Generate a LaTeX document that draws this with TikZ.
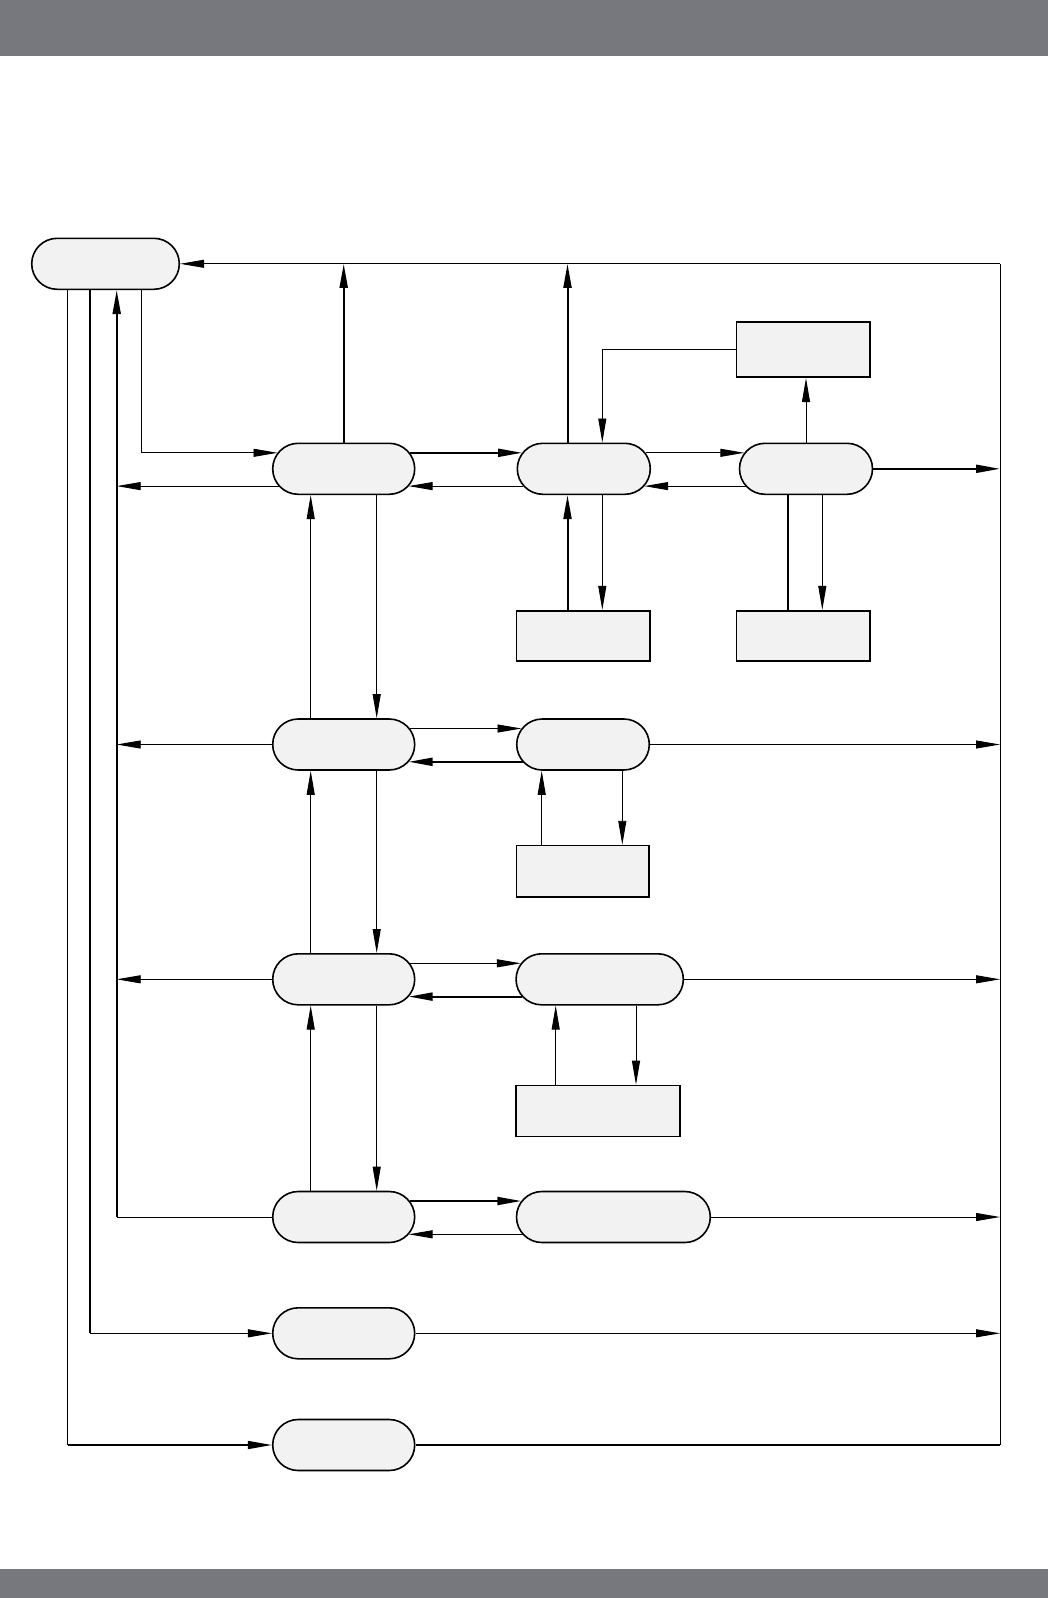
\documentclass[tikz,border=0pt]{standalone}
\usetikzlibrary{calc,arrows.meta}
\definecolor{bargray}{HTML}{77787D}
\definecolor{boxgray}{HTML}{F2F2F2}
\tikzset{
	stadium/.style={draw, line width=1.6pt, fill=boxgray, rounded corners=25.5pt, inner sep=0pt, minimum height=51pt},
	block/.style={draw, line width=1.6pt, fill=boxgray, inner sep=0pt},
	>={Triangle[length=24pt,width=8pt]}
}

\begin{document}
\begin{tikzpicture}[x=1pt,y=-1pt]
			%%%%% START %%%%%
			
			\fill[bargray] (0,0) rectangle (1048,56);
			\fill[bargray] (0,1569) rectangle (1048,1598);
			\useasboundingbox (0,0) rectangle (1048,1598);
			
			% states
			\node[stadium, minimum width=147.6pt] (A) at (105.5,263.8) {};
			\node[stadium, minimum width=142pt] (B1) at (343.7,468.8) {};
			\node[stadium, minimum width=133pt] (C1) at (583.8,468.8) {};
			\node[stadium, minimum width=133pt] (D1) at (806,468.8) {};
			\node[stadium, minimum width=142pt] (B2) at (343.7,744.5) {};
			\node[stadium, minimum width=132.6pt] (C2) at (583,744.5) {};
			\node[stadium, minimum width=142pt] (B3) at (343.7,979.3) {};
			\node[stadium, minimum width=167.3pt] (C3) at (599.7,979.3) {};
			\node[stadium, minimum width=142pt] (B4) at (343.7,1217) {};
			\node[stadium, minimum width=193.8pt] (C4) at (613.4,1217) {};
			\node[stadium, minimum width=142pt] (B5) at (343.7,1333.3) {};
			\node[stadium, minimum width=142pt] (B6) at (343.7,1445) {};
			
			% boxes
			\node[block, minimum width=133.3pt, minimum height=55.5pt] (E1) at (803.3,349.5) {};
			\node[block, minimum width=133.3pt, minimum height=50pt] (F1) at (583.3,635.7) {};
			\node[block, minimum width=133.3pt, minimum height=50pt] (F2) at (803.3,635.7) {};
			\node[block, minimum width=132.3pt, minimum height=51.2pt] (G) at (582.8,871.2) {};
			\node[block, minimum width=164pt, minimum height=51pt] (H) at (598,1111) {};
			
			% columns
			\coordinate (colA) at (67.7,0);
			\coordinate (colB) at (90,0);
			\coordinate (colC) at (116.7,0);
			\coordinate (colD) at (141,0);
			\coordinate (rim) at (1000,0);
			\coordinate (colBup) at (310.7,0);
			\coordinate (colBdn) at (376.7,0);
			\coordinate (colCup) at (567.5,0);
			\coordinate (colCdn) at (602.3,0);
			\coordinate (colDl) at (787.7,0);
			\coordinate (colDr) at (822.3,0);
			\coordinate (colGup) at (541.7,0);
			\coordinate (colGdn) at (622.3,0);
			\coordinate (colHup) at (555.7,0);
			\coordinate (colHdn) at (636,0);
			
			% left side
			\draw[line width=0.9pt,->] (A.south -| colD) |- ($(B1.west)+(5.6,-16)$);
			\draw[line width=2pt,->] (B4.west -| colC) -- (A.south -| colC);
			\draw[line width=0.9pt] (B4.west) -- (B4.west -| colC);
			\draw[line width=2pt] (A.south -| colB) -- (B5.west -| colB);
			\draw[line width=1pt,->] (B5.west -| colB) -- (B5.west);
			\draw[line width=0.9pt] (A.south -| colA) -- (B6.west -| colA);
			\draw[line width=1.6pt,->] (B6.west -| colA) -- (B6.west);
			\coordinate (b1lo) at ($(B1.west)+(6.9,17.3)$);
			\draw[line width=0.9pt,->] (b1lo) -- (b1lo -| colC);
			\draw[line width=0.9pt,->] (B2.west) -- (B2.west -| colC);
			\draw[line width=0.9pt,->] (B3.west) -- (B3.west -| colC);
			
			% top line and right side
			\draw[line width=0.9pt,->] (A.east -| rim) -- (A.east);
			\draw[line width=0.9pt] (A.east -| rim) -- (B6.east -| rim);
			\draw[line width=2pt] (B6.east) -- (B6.east -| rim);
			\draw[line width=2pt,->] (B1.north) -- (B1.north |- A.east);
			\draw[line width=2pt,->] (C1.north -| colCup) -- (A.east -| colCup);
			
			% row 1
			\draw[line width=2pt,->] ($(B1.east)+(-5.6,-16)$) -- ($(C1.west)+(5.6,-16)$);
			\draw[line width=0.9pt,->] ($(C1.west)+(6.9,17.3)$) -- ($(B1.east)+(-6.9,17.3)$);
			\draw[line width=0.9pt,->] ($(C1.east)+(-5.6,-16)$) -- ($(D1.west)+(5.6,-16)$);
			\draw[line width=0.9pt,->] ($(D1.west)+(6.9,17.3)$) -- ($(C1.east)+(-6.9,17.3)$);
			\draw[line width=2pt,->] (D1.east) -- (D1.east -| rim);
			\draw[line width=0.9pt,->] (E1.west) -| (C1.north -| colCdn);
			\draw[line width=0.9pt,->] (D1.north) -- (D1.north |- E1.south);
			\draw[line width=2pt,->] (F1.north -| colCup) -- (C1.south -| colCup);
			\draw[line width=0.9pt,->] (C1.south -| colCdn) -- (F1.north -| colCdn);
			\draw[line width=2pt] (F2.north -| colDl) -- (D1.south -| colDl);
			\draw[line width=0.9pt,->] (D1.south -| colDr) -- (F2.north -| colDr);
			
			% B column
			\foreach \lo/\hi in {B2/B1,B3/B2,B4/B3} {
				\draw[line width=0.9pt,->] (\lo.north -| colBup) -- (\hi.south -| colBup);
				\draw[line width=0.9pt,->] (\hi.south -| colBdn) -- (\lo.north -| colBdn);
			}
			
			% row 2
			\draw[line width=0.9pt,->] ($(B2.east)+(-5.6,-16)$) -- ($(C2.west)+(5.6,-16)$);
			\draw[line width=2pt,->] ($(C2.west)+(6.9,17.3)$) -- ($(B2.east)+(-6.9,17.3)$);
			\draw[line width=0.9pt,->] (C2.east) -- (C2.east -| rim);
			\draw[line width=0.9pt,->] (G.north -| colGup) -- (C2.south -| colGup);
			\draw[line width=0.9pt,->] (C2.south -| colGdn) -- (G.north -| colGdn);
			
			% row 3
			\draw[line width=0.9pt,->] ($(B3.east)+(-5.6,-16)$) -- ($(C3.west)+(5.6,-16)$);
			\draw[line width=2pt,->] ($(C3.west)+(6.9,17.3)$) -- ($(B3.east)+(-6.9,17.3)$);
			\draw[line width=0.9pt,->] (C3.east) -- (C3.east -| rim);
			\draw[line width=0.9pt,->] (H.north -| colHup) -- (C3.south -| colHup);
			\draw[line width=0.9pt,->] (C3.south -| colHdn) -- (H.north -| colHdn);
			
			% row 4 and 5
			\draw[line width=2pt,->] ($(B4.east)+(-5.6,-16)$) -- ($(C4.west)+(5.6,-16)$);
			\draw[line width=0.9pt,->] ($(C4.west)+(6.9,17.3)$) -- ($(B4.east)+(-6.9,17.3)$);
			\draw[line width=0.9pt,->] (C4.east) -- (C4.east -| rim);
			\draw[line width=0.9pt,->] (B5.east) -- (B5.east -| rim);
			
			%%%%% END %%%%%
\end{tikzpicture}
\end{document}
